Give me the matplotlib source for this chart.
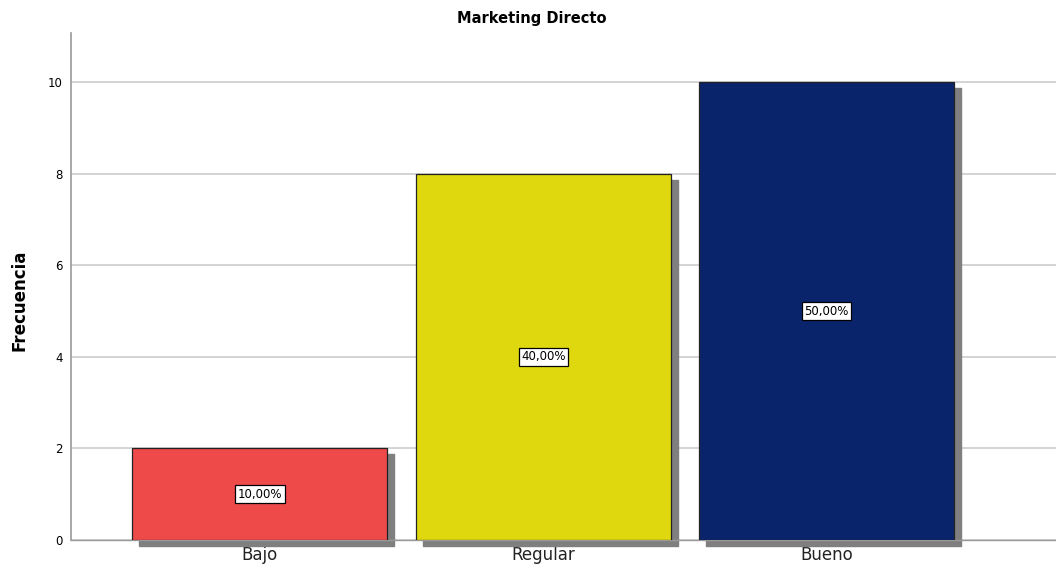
import numpy as np
import matplotlib.pyplot as plt
from matplotlib.patches import Rectangle

categorias = ["Bajo", "Regular", "Bueno"]
frecuencia = [2, 8, 10]
porcentajes = ["10,00%", "40,00%", "50,00%"]
colores = ["#EE4A4A", "#E0D80E", "#0A246C"]

fig = plt.figure(figsize=(10.56, 5.74), dpi=100)
ax = fig.add_axes([71/1056, 34/574, 1 - 71/1056, (540-33)/574])

x = np.arange(len(categorias))
ancho = 0.9
# sombra de las barras
dx, dy = 7/283.5, 6/45.8
for xi, v in zip(x, frecuencia):
    ax.add_patch(Rectangle((xi - ancho/2 + dx, -dy), ancho, v, color="#7f7f7f",
                           zorder=2, clip_on=False))
ax.bar(x, frecuencia, width=ancho, color=colores, edgecolor="#222222",
       linewidth=0.9, zorder=3)

for xi, v, p in zip(x, frecuencia, porcentajes):
    ax.text(xi, v/2, p, ha="center", va="center", fontsize=8.5, zorder=4,
            bbox=dict(boxstyle="square,pad=0.2", fc="white", ec="black", lw=0.9))

ax.set_xlim(-0.667, 2.81)
ax.set_ylim(0, 11.07)
ax.set_yticks([0, 2, 4, 6, 8, 10])
ax.set_xticks(x)
ax.set_xticklabels(categorias, fontsize=12, color="#222222")
ax.tick_params(axis="y", labelsize=8.5, length=0, pad=6)
ax.tick_params(axis="x", length=0, pad=4)
ax.yaxis.grid(True, color="#cccccc", linewidth=1.2, zorder=0)
ax.set_axisbelow(True)
for s in ["top", "right"]:
    ax.spines[s].set_visible(False)
ax.spines["left"].set_color("#999999")
ax.spines["left"].set_linewidth(1.2)
ax.spines["bottom"].set_color("#999999")
ax.spines["bottom"].set_linewidth(1.0)

fig.text(20/1056, 1 - 300/574, "Frecuencia", rotation=90, ha="center", va="center",
         fontsize=12, fontweight="bold")
fig.text(532/1056, 1 - 18/574, "Marketing Directo", ha="center", va="center",
         fontsize=10.5, fontweight="bold")

fig.savefig("out.png", dpi=100)
